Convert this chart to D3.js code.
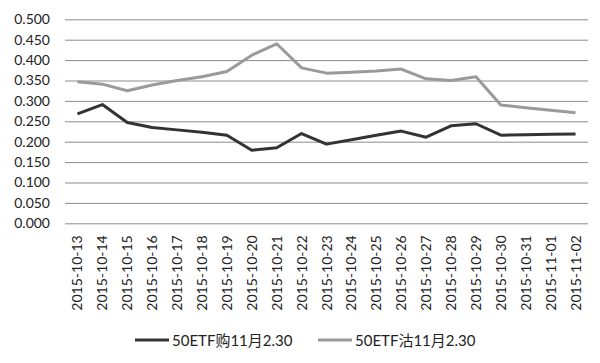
<!DOCTYPE html>
<html>
<head>
    <meta charset="UTF-8">
    <title>50ETF Options</title>
    <script src="https://d3js.org/d3.v7.min.js"></script>
    <style type="text/css">
      body{
        margin: 0;
        background-color: white;
      }
      text{
        font-family: Lato, "Noto Sans CJK SC", sans-serif;
        fill: #222;
      }
    </style>
</head>
<body>
    <svg id="chart"></svg>

    <script>

        const dates = ["2015-10-13","2015-10-14","2015-10-15","2015-10-16","2015-10-17","2015-10-18","2015-10-19",
          "2015-10-20","2015-10-21","2015-10-22","2015-10-23","2015-10-24","2015-10-25","2015-10-26",
          "2015-10-27","2015-10-28","2015-10-29","2015-10-30","2015-10-31","2015-11-01","2015-11-02"];
        const callValues = [0.268,0.291,0.247,0.235,0.229,0.223,0.216,0.179,0.185,0.220,0.194,0.205,0.216,0.226,
          0.211,0.239,0.244,0.216,0.217,0.218,0.219];
        const putValues = [0.347,0.341,0.325,0.339,0.350,0.359,0.372,0.412,0.440,0.381,0.368,0.370,0.373,0.378,
          0.354,0.350,0.359,0.290,0.283,0.277,0.271];
        const seriesNames = ["50ETF购11月2.30", "50ETF沽11月2.30"];
        const yTicks = [0,0.05,0.1,0.15,0.2,0.25,0.3,0.35,0.4,0.45,0.5];

        const width = 600, height = 363;
        const margins = {top:19.3, left:65, right:12, bottom:139.7};
        const w = width - margins.left - margins.right;
        const h = height - margins.top - margins.bottom;

        const svg = d3.select("#chart")
          .attr("width", width)
          .attr("height", height);

        const chart = svg.append("g")
          .attr("transform", `translate(${margins.left}, ${margins.top})`);

        const x_scale = d3.scaleBand()
          .range([0, w])
          .domain(dates);

        const y_scale = d3.scaleLinear()
          .range([h, 0])
          .domain([0, 0.5]);

        // gridlines + y labels
        const yAxis = chart.append("g")
          .call(d3.axisLeft(y_scale).tickValues(yTicks).tickSize(-w).tickFormat(d3.format(".3f")).tickPadding(15));
        yAxis.select(".domain").remove();
        yAxis.selectAll(".tick line").attr("stroke", "#8c8c8c").attr("stroke-width", 1);
        yAxis.selectAll(".tick text").style("font-size", "14px").attr("fill", "#222");

        // x labels
        const xAxis = chart.append("g")
          .attr("transform", `translate(0, ${h})`)
          .call(d3.axisBottom(x_scale).tickSize(0));
        xAxis.select(".domain").remove();
        xAxis.selectAll(".tick text")
          .style("font-size", "14px")
          .attr("fill", "#222")
          .attr("text-anchor", "end")
          .attr("transform", "translate(5, 12) rotate(-90)")
          .attr("x", 0).attr("y", 0).attr("dy", 0);

        const line = (vals) => d3.line()
          .x((d, i) => x_scale(dates[i]) + x_scale.bandwidth()/2)
          .y((d) => y_scale(d))(vals);

        chart.append("path")
          .attr("d", line(putValues))
          .attr("fill", "none")
          .attr("stroke", "#9a9a9a")
          .attr("stroke-width", 3)
          .attr("stroke-linejoin", "round");

        chart.append("path")
          .attr("d", line(callValues))
          .attr("fill", "none")
          .attr("stroke", "#333")
          .attr("stroke-width", 3)
          .attr("stroke-linejoin", "round");

        // legend
        const legendColors = ["#333", "#9a9a9a"];
        const legendX = [135, 318];
        const legend = svg.append("g");
        seriesNames.forEach((name, i) => {
          legend.append("line")
            .attr("x1", legendX[i]).attr("x2", legendX[i] + 34)
            .attr("y1", 340).attr("y2", 340)
            .attr("stroke", legendColors[i])
            .attr("stroke-width", 3);
          legend.append("text")
            .attr("x", legendX[i] + 37)
            .attr("y", 345.5)
            .style("font-size", "15px")
            .text(name);
        });

    </script>
</body>
</html>
